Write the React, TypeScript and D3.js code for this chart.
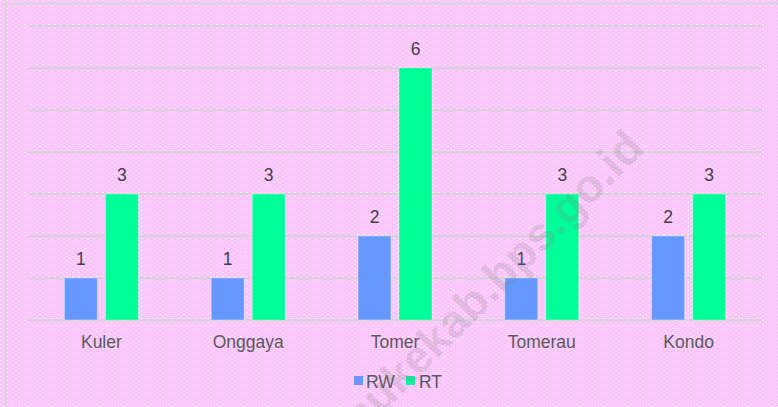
import React from "react";
import * as d3 from "d3";

const categories = ["Kuler", "Onggaya", "Tomer", "Tomerau", "Kondo"];
const rwValues = [1, 1, 2, 1, 2];
const rtValues = [3, 3, 6, 3, 3];
const seriesNames = ["RW", "RT"];
const yTicks = [0, 1, 2, 3, 4, 5, 6, 7];

const W = 778;
const H = 407;
const colors = ["#6699ff", "#00ff99"];

export default function App() {
  const x = d3.scaleBand<string>().domain(categories).range([28, 762]).paddingInner(0).paddingOuter(0);
  const y = d3.scaleLinear().domain([0, 7]).range([320, 26]);
  const barW = 33;
  const gap = 8;
  const series = [rwValues, rtValues];
  const font = "'Liberation Sans', Arial, sans-serif";
  const fs = 17.5;

  return (
    <svg width={W} height={H} style={{ position: "absolute", left: 0, top: 0 }} fontFamily={font}>
      <defs>
        <pattern id="dots" width="6" height="4" patternUnits="userSpaceOnUse">
          <rect width="6" height="4" fill="#ffc4ff" />
          <rect x="0" y="0" width="2" height="1" fill="#ffffff" opacity="0.6" />
          <rect x="3" y="2" width="2" height="1" fill="#ffffff" opacity="0.6" />
        </pattern>
      </defs>
      <rect width={W} height={H} fill="url(#dots)" />
      <path d={`M5.5,${H} V3.5 H${W}`} fill="none" stroke="#d4d4d4" strokeWidth={2} />
      {yTicks.map((t) => (
        <line key={t} x1={28} x2={762} y1={y(t)} y2={y(t)} stroke="#d4d4d4" strokeWidth={2} />
      ))}
      {categories.map((c, i) => {
        const cx = (x(c) as number) + x.bandwidth() / 2;
        const start = cx - (2 * barW + gap) / 2;
        return (
          <g key={c}>
            {series.map((vals, s) => {
              const bx = start + s * (barW + gap);
              return (
                <g key={s}>
                  <rect x={bx} y={y(vals[i])} width={barW} height={y(0) - y(vals[i])} fill={colors[s]} stroke="#ffffff" strokeOpacity={0.35} strokeWidth={1} />
                  <text x={bx + barW / 2} y={y(vals[i]) - 13} textAnchor="middle" fontSize={fs} fill="#404040">{vals[i]}</text>
                </g>
              );
            })}
            <text x={cx} y={348} textAnchor="middle" fontSize={fs} fill="#595959">{c}</text>
          </g>
        );
      })}
      <g>
        <rect x={354} y={376} width={9} height={9} fill={colors[0]} />
        <text x={366} y={388} fontSize={fs} fill="#595959">{seriesNames[0]}</text>
        <rect x={406} y={376} width={9} height={9} fill={colors[1]} />
        <text x={419} y={388} fontSize={fs} fill="#595959">{seriesNames[1]}</text>
      </g>
      <text
        transform="translate(646,150) rotate(-45)"
        textAnchor="end"
        fontSize={46}
        fontWeight="bold"
        fill="#808080"
        opacity={0.22}
      >
        meraukekab.bps.go.id
      </text>
    </svg>
  );
}
